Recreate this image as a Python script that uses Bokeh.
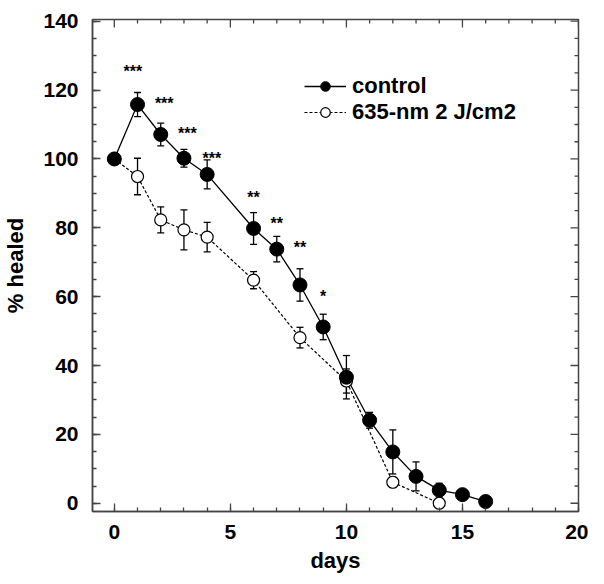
import numpy as np
from bokeh.plotting import figure
from bokeh.models import (ColumnDataSource, Whisker, TeeHead, Range1d,
                          SingleIntervalTicker, Legend, LegendItem)
from bokeh.core.properties import value
from bokeh.embed import file_html
from bokeh.resources import INLINE

# ---- data ----
control_days = [0, 1, 2, 3, 4, 6, 7, 8, 9, 10, 11, 12, 13, 14, 15, 16]
control_vals = [100, 115.8, 107.1, 100.2, 95.5, 79.8, 73.8, 63.4, 51.2, 36.6, 24.1, 14.9, 7.8, 3.8, 2.5, 0.5]
control_err = [0, 3.5, 3.3, 2.6, 4.2, 4.6, 3.7, 4.7, 3.7, 6.3, 2.3, 6.4, 4.2, 2.0, 0, 0]

treated_days = [0, 1, 2, 3, 4, 6, 8, 10, 12, 14]
treated_vals = [100, 94.9, 82.3, 79.4, 77.3, 64.8, 48.1, 35.5, 6.1, 0]
treated_err = [0, 5.3, 3.8, 5.8, 4.3, 2.5, 3.0, 3.5, 1.5, 1.0]

star_days = [0.8, 2.15, 3.15, 4.2, 6.0, 7.0, 8.0, 9.0]
star_vals = [126.6, 117.2, 108.5, 101.4, 89.9, 82.4, 75.3, 61.3]
star_labels = ["***", "***", "***", "***", "**", "**", "**", "*"]

series_names = ["control", "635-nm 2 J/cm2"]
x_label = "days"
y_label = "% healed"

X0, X1 = -0.94, 20
Y0, Y1 = -2.4, 140.5

FONT = "Liberation Sans"
AX = "#444444"

p = figure(width=588, height=575, x_range=Range1d(X0, X1), y_range=Range1d(Y0, Y1),
           output_backend="svg", toolbar_location=None,
           min_border_left=83, min_border_right=10, min_border_top=19, min_border_bottom=62)
p.grid.visible = False
p.outline_line_color = AX
p.outline_line_width = 1.5
p.background_fill_color = "white"
p.border_fill_color = "white"

def style_axis(ax, ticker):
    ax.ticker = ticker
    ax.axis_line_color = AX
    ax.axis_line_width = 1.5
    ax.major_tick_line_color = AX
    ax.minor_tick_line_color = AX
    ax.major_tick_line_width = 1.3
    ax.minor_tick_line_width = 1.3
    ax.major_tick_in = 8
    ax.major_tick_out = 0
    ax.minor_tick_in = 4
    ax.minor_tick_out = 0
    ax.major_label_text_font = FONT
    ax.major_label_text_font_style = "bold"
    ax.major_label_text_font_size = "21px"
    ax.major_label_text_color = "black"
    ax.axis_label_text_font = FONT
    ax.axis_label_text_font_style = "bold"
    ax.axis_label_text_font_size = "22px"
    ax.axis_label_text_color = "black"

style_axis(p.xaxis[0], SingleIntervalTicker(interval=5, num_minor_ticks=5))
style_axis(p.yaxis[0], SingleIntervalTicker(interval=20, num_minor_ticks=4))
p.xaxis.axis_label = x_label
p.yaxis.axis_label = y_label
p.xaxis.major_label_standoff = 13
p.yaxis.major_label_standoff = 14
p.xaxis.axis_label_standoff = 6
p.yaxis.axis_label_standoff = 12

# mirrored inward ticks on top and right edges
xt = np.arange(0, 21, 1)
yt = np.arange(0, 141, 5)
p.ray(x=xt, y=Y1, length=np.where(xt % 5 == 0, 8, 4), angle=-np.pi / 2,
      length_units="screen", line_color=AX, line_width=1.3)
p.ray(x=X1, y=yt, length=np.where(yt % 20 == 0, 8, 4), angle=np.pi,
      length_units="screen", line_color=AX, line_width=1.3)

# ---- series ----
l1 = p.line(control_days, control_vals, line_color="black", line_width=1.3)
l2 = p.line(treated_days, treated_vals, line_color="black", line_width=1.2, line_dash="3 2")

s2 = p.scatter(treated_days, treated_vals, size=12, marker="circle",
               fill_color="white", line_color="black", line_width=1.2)

def whisk(days, vals, errs):
    d = [(x, v - e, v + e) for x, v, e in zip(days, vals, errs) if e > 0]
    src = ColumnDataSource(dict(x=[a[0] for a in d], lo=[a[1] for a in d], hi=[a[2] for a in d]))
    w = Whisker(base="x", lower="lo", upper="hi", source=src, line_color="black", line_width=1.3,
                upper_head=TeeHead(size=7, line_width=1.3, line_color="black"),
                lower_head=TeeHead(size=7, line_width=1.3, line_color="black"))
    p.add_layout(w)

whisk(treated_days, treated_vals, treated_err)
s1 = p.scatter(control_days, control_vals, size=14, marker="circle",
               fill_color="black", line_color="black")
whisk(control_days, control_vals, control_err)

p.text(x=star_days, y=star_vals, text=star_labels, text_font=value(FONT),
       text_font_style="bold", text_font_size="16px", text_align="center",
       text_baseline="middle", y_offset=4, text_color="black")

legend = Legend(items=[LegendItem(label=series_names[0], renderers=[l1, s1]),
                       LegendItem(label=series_names[1], renderers=[l2, s2])],
                location=(212, 386), glyph_width=42, glyph_height=24, label_height=24,
                spacing=0, padding=0, margin=0, label_standoff=6,
                border_line_color=None, background_fill_alpha=0,
                label_text_font=FONT, label_text_font_style="bold",
                label_text_font_size="22px", label_text_color="black")
p.add_layout(legend)

open("out.html", "w").write(file_html(p, INLINE))
